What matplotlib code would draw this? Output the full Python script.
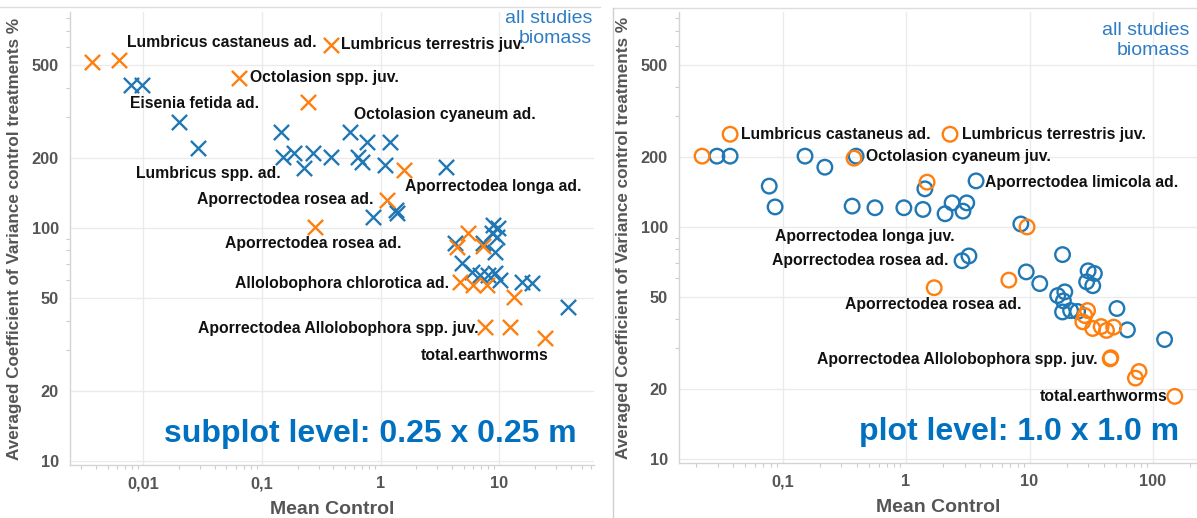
import numpy as np
import matplotlib
matplotlib.use("Agg")
import matplotlib.pyplot as plt
from matplotlib.lines import Line2D

plt.rcParams['font.family'] = ['Liberation Sans', 'DejaVu Sans']

# ---- subplot level (0.25 x 0.25 m), x markers
sub_blue_x = [0.0079, 0.0097, 0.020, 0.0288, 0.145, 0.150, 0.186, 0.226, 0.269, 0.382,
              0.552, 0.645, 0.70, 0.77, 1.09, 1.20, 3.57, 0.865, 1.35, 1.38,
              4.26, 8.9, 9.8, 8.7, 9.6, 7.3, 9.2, 4.9, 5.9, 6.9, 8.0, 9.2, 10.2, 15.6, 19.0, 38]
sub_blue_y = [411, 411, 285, 220, 258, 202, 210, 181, 210, 202,
              258, 202, 192, 234, 186, 234, 183, 111, 119, 116,
              86, 103, 100, 95, 91, 86, 79, 70.8, 64.7, 63, 63, 64, 60, 58.6, 58, 45.8]
sub_orange_x = [0.00367, 0.00622, 0.382, 0.064, 0.244, 1.58, 1.13, 0.28,
                5.5, 4.4, 7.3, 4.7, 6.0, 7.9, 13.2, 7.6, 12.4, 24.4]
sub_orange_y = [515, 526, 612, 441, 347, 177, 132, 101,
                95, 83, 84, 58.6, 57, 57, 50.6, 37.6, 37.6, 33.7]

sub_labels = ["Lumbricus castaneus ad.", "Lumbricus terrestris juv.", "Octolasion spp. juv.",
              "Eisenia fetida ad.", "Octolasion cyaneum ad.", "Lumbricus spp. ad.",
              "Aporrectodea longa ad.", "Aporrectodea rosea ad.", "Aporrectodea rosea ad.",
              "Allolobophora chlorotica ad.", "Aporrectodea Allolobophora spp. juv.",
              "total.earthworms"]
sub_label_x = [0.291, 0.464, 0.0792, 0.0272, 3.50, 0.035, 8.9, 0.865, 0.269, 3.78, 6.65, 7.6]
sub_label_y = [628, 612, 441, 341, 308, 171, 150, 132, 85.4, 58, 36.9, 28.2]
sub_label_ha = ['right', 'left', 'left', 'center', 'center', 'center',
                'center', 'right', 'center', 'right', 'right', 'center']

# ---- plot level (1.0 x 1.0 m), circle markers
plot_blue_x = [0.0294, 0.0376, 0.152, 0.22, 0.394, 0.078, 0.087, 0.366, 0.56, 0.96,
               1.37, 1.42, 2.07, 2.36, 2.89, 3.1, 3.69, 8.5, 2.84, 3.23,
               18.5, 9.4, 12.1, 16.9, 19.3, 18.8, 18.5, 21.5, 24.5, 29.8,
               33.5, 29, 32.5, 51, 62, 124]
plot_blue_y = [202, 202, 202, 181, 202, 150, 122, 123, 121, 121,
               119, 146, 114, 127, 117, 127, 158, 103, 71.5, 75,
               76, 64, 57, 50.6, 52.5, 48, 43, 43.6, 43.2, 64.7,
               63, 58, 55.8, 44.5, 36, 32.7]
plot_orange_x = [0.0223, 0.0376, 0.379, 2.27, 1.48, 9.55, 1.69, 6.8,
                 29.5, 28, 27, 32.5, 38, 42, 48, 45, 45.5, 77, 72, 150]
plot_orange_y = [202, 251, 198, 251, 156, 100, 54.7, 59,
                 43.6, 41.5, 39, 36.5, 37.2, 35.8, 37, 27, 27.3, 23.8, 22.3, 18.6]

plot_labels = ["Lumbricus castaneus ad.", "Lumbricus terrestris juv.", "Octolasion cyaneum juv.",
               "Aporrectodea limicola ad.", "Aporrectodea longa juv.", "Aporrectodea rosea ad.",
               "Aporrectodea rosea ad.", "Aporrectodea Allolobophora spp. juv.", "total.earthworms"]
plot_label_x = [0.0461, 2.84, 0.474, 4.36, 0.466, 2.19, 1.66, 35.9, 130]
plot_label_y = [251, 251, 202, 156, 90.6, 71.5, 46.3, 26.9, 18.6]
plot_label_ha = ['left', 'left', 'left', 'left', 'center', 'right', 'center', 'right', 'right']

y_ticks = [10, 20, 50, 100, 200, 500]
y_ticklabels = ['10', '20', '50', '100', '200', '500']
sub_xticks = [0.01, 0.1, 1, 10]
sub_xticklabels = ['0,01', '0,1', '1', '10']
plot_xticks = [0.1, 1, 10, 100]
plot_xticklabels = ['0,1', '1', '10', '100']

BLUE = '#1f77b4'
ORANGE = '#ff7f0e'
BIG_BLUE = '#0070c0'
NOTE_BLUE = '#2e7cc4'
GREY = '#555555'
GRID = '#ebebeb'


def minor_positions(lo, hi):
    out = []
    for e in range(int(np.floor(np.log10(lo))), int(np.ceil(np.log10(hi))) + 1):
        for m in range(2, 10):
            v = m * 10.0 ** e
            if lo < v < hi:
                out.append(v)
    return out


def draw_panel(ax, bx, by, ox, oy, marker, labels, lx, ly, lha, xlim, xt, xtl, level_text):
    ax.set_xscale('log')
    ax.set_yscale('log')
    ax.set_xlim(*xlim)
    ax.set_ylim(9.6, 845)

    if marker == 'x':
        ax.scatter(bx, by, marker='x', s=120, linewidths=1.7, color=BLUE, zorder=3)
        ax.scatter(ox, oy, marker='x', s=120, linewidths=1.7, color=ORANGE, zorder=3)
    else:
        ax.scatter(bx, by, marker='o', s=110, linewidths=1.7, facecolors='none',
                   edgecolors=BLUE, zorder=3)
        ax.scatter(ox, oy, marker='o', s=110, linewidths=1.7, facecolors='none',
                   edgecolors=ORANGE, zorder=3)

    for t, x, y, ha in zip(labels, lx, ly, lha):
        ax.text(x, y, t, ha=ha, va='center', fontsize=11.3, fontweight='bold',
                color='#111111', zorder=4)

    ax.set_xticks(xt)
    ax.set_xticklabels(xtl)
    ax.set_xticks(minor_positions(*xlim), minor=True)
    ax.set_yticks(y_ticks)
    ax.set_yticklabels(y_ticklabels)
    ax.set_yticks(minor_positions(9.6, 845), minor=True)
    ax.xaxis.set_minor_formatter(plt.NullFormatter())
    ax.yaxis.set_minor_formatter(plt.NullFormatter())
    ax.tick_params(which='major', length=0, labelsize=11.8, labelcolor=GREY, pad=8)
    ax.tick_params(which='minor', length=3, color='#cccccc', width=0.8)
    for lab in ax.get_xticklabels() + ax.get_yticklabels():
        lab.set_fontweight('bold')

    ax.grid(True, which='major', color=GRID, linewidth=1)
    ax.set_axisbelow(True)
    for s in ['top', 'right']:
        ax.spines[s].set_visible(False)
    for s in ['left', 'bottom']:
        ax.spines[s].set_color('#d4d4d4')
        ax.spines[s].set_linewidth(1)

    ax.set_xlabel('Mean Control', fontsize=14, fontweight='bold', color=GREY, labelpad=7)
    ax.set_ylabel('Averaged Coefficient of Variance control treatments %', fontsize=12.3,
                  fontweight='bold', color=GREY, labelpad=7)

    ax.text(0.966, 0.068, level_text, transform=ax.transAxes, ha='right', va='center',
            fontsize=23, fontweight='bold', color=BIG_BLUE)


fig = plt.figure(figsize=(11.97, 5.18), dpi=100)
ax1 = fig.add_axes([70 / 1197, 1 - 465 / 518, 524 / 1197, 453 / 518])
ax2 = fig.add_axes([679 / 1197, 1 - 463 / 518, 518 / 1197, 451 / 518])

draw_panel(ax1, sub_blue_x, sub_blue_y, sub_orange_x, sub_orange_y, 'x',
           sub_labels, sub_label_x, sub_label_y, sub_label_ha,
           (0.0024, 63), sub_xticks, sub_xticklabels, 'subplot level: 0.25 x 0.25 m')
draw_panel(ax2, plot_blue_x, plot_blue_y, plot_orange_x, plot_orange_y, 'o',
           plot_labels, plot_label_x, plot_label_y, plot_label_ha,
           (0.0145, 227), plot_xticks, plot_xticklabels, 'plot level: 1.0 x 1.0 m')

ax1.text(0.996, 1.004, 'all studies\nbiomass', transform=ax1.transAxes, ha='right', va='top',
         fontsize=14, color=NOTE_BLUE, linespacing=1.25, zorder=5)
ax2.text(0.986, 0.978, 'all studies\nbiomass', transform=ax2.transAxes, ha='right', va='top',
         fontsize=14, color=NOTE_BLUE, linespacing=1.25, zorder=5)

# screenshot frame lines
fig.add_artist(Line2D([0, 600 / 1197], [1 - 7 / 518, 1 - 7 / 518], color='#dddddd', lw=1))
fig.add_artist(Line2D([613 / 1197, 1], [1 - 8 / 518, 1 - 8 / 518], color='#dddddd', lw=1))
fig.add_artist(Line2D([613 / 1197, 613 / 1197], [0, 1 - 8 / 518], color='#cfcfcf', lw=1))

fig.savefig('out.png', dpi=100)
